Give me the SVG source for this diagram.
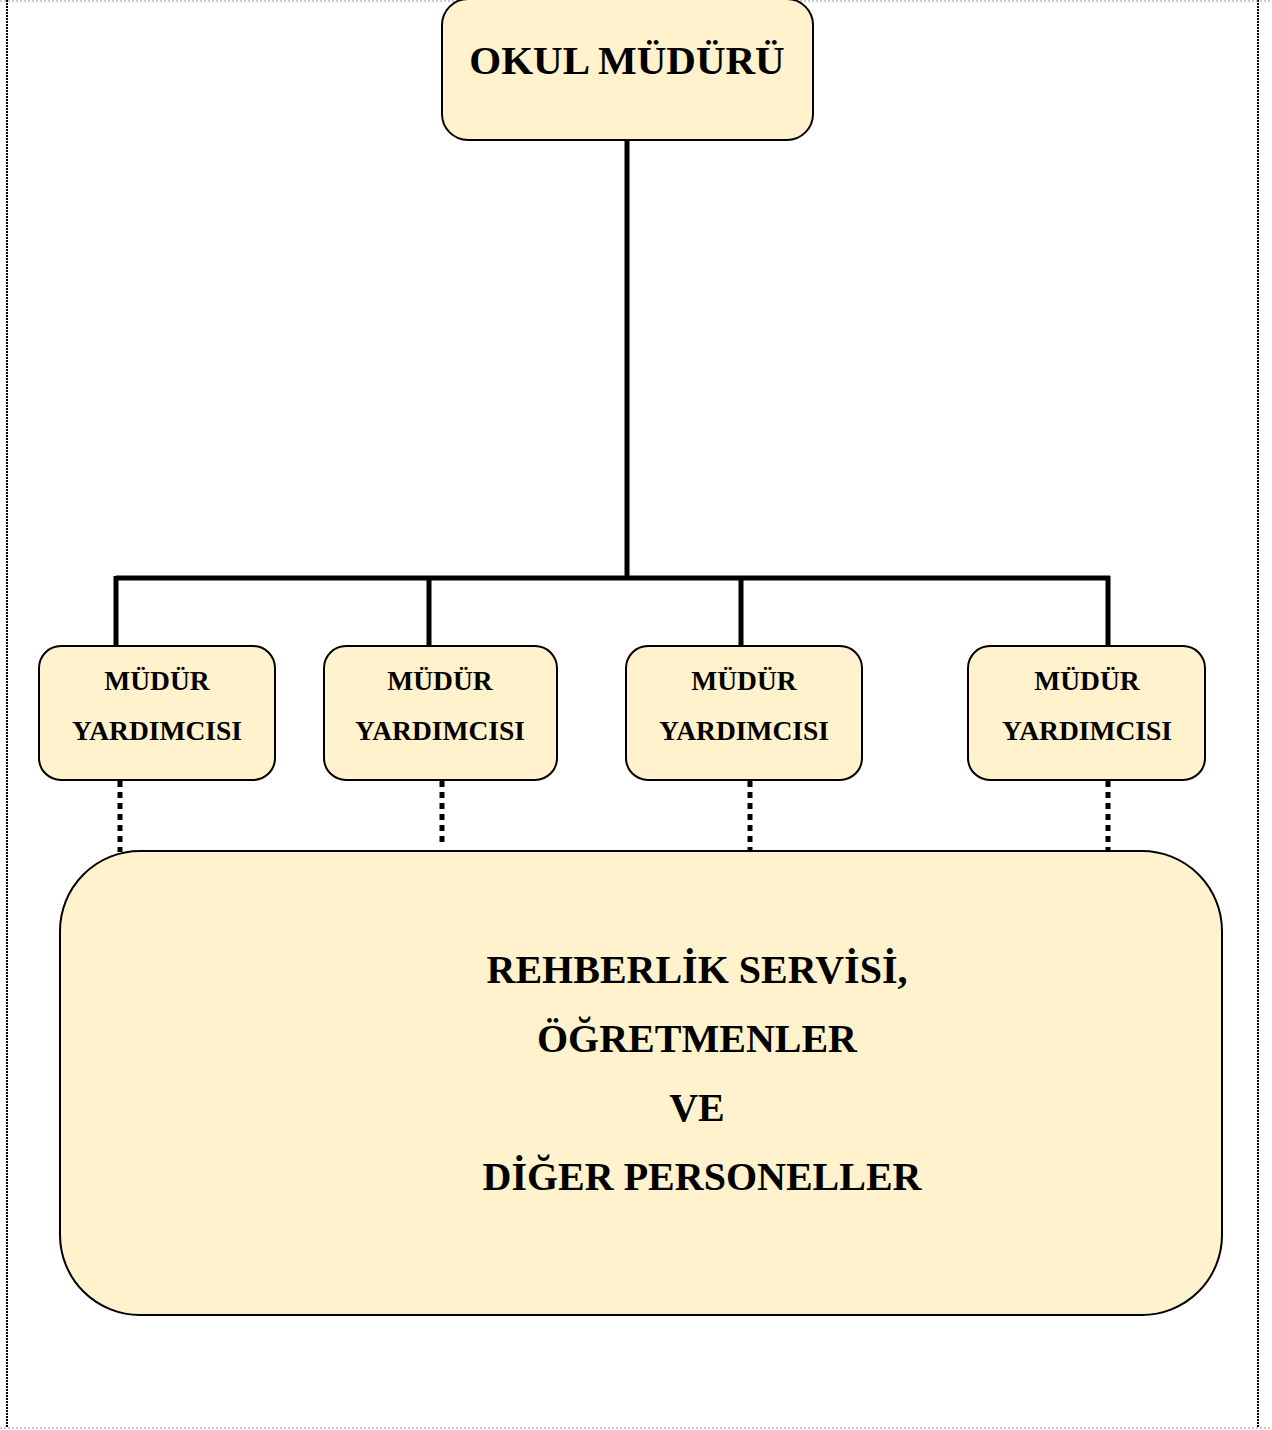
<svg xmlns="http://www.w3.org/2000/svg" width="1272" height="1430" viewBox="0 0 1272 1430">
<style>
.box{fill:#FFF2CC;stroke:#000;stroke-width:2}
.t{font-family:"Liberation Serif","Times New Roman",serif;font-weight:bold;fill:#000;text-anchor:middle}
.top{font-size:41px}
.big{font-size:40px}
.sm{font-size:27.5px}
.solid{stroke:#000;stroke-width:5;fill:none}
.dot{stroke:#000;stroke-width:5;stroke-dasharray:6 5;fill:none}
</style>
<rect x="0" y="0" width="1272" height="1430" fill="#fff"/>
<g id="page">
<line x1="7" y1="0" x2="7" y2="1428" stroke="#000" stroke-width="2" stroke-dasharray="2 1"/>
<line x1="1258" y1="0" x2="1258" y2="1428" stroke="#000" stroke-width="2" stroke-dasharray="2 1"/>
<line x1="0" y1="1" x2="1272" y2="1" stroke="#999" stroke-width="1" stroke-dasharray="2 2"/>
<line x1="0" y1="1428" x2="1272" y2="1428" stroke="#999" stroke-width="1" stroke-dasharray="2 2"/>
</g>
<g id="connectors">
<path class="solid" d="M627 140 V578 M116 578 H1110 M116 576 V646 M429 576 V646 M741 576 V646 M1108 576 V646"/>
<path class="dot" d="M120 781 V852 M442 781 V846 M750 781 V853 M1108 781 V853"/>
</g>
<g id="mudur">
<rect class="box" x="442" y="-1" width="371" height="141" rx="26"/>
<text class="t top" x="627" y="74">OKUL MÜDÜRÜ</text>
</g>
<g id="yard1">
<rect class="box" x="39" y="646" width="236" height="134" rx="22"/>
<text class="t sm" x="157" y="690">MÜDÜR</text>
<text class="t sm" x="157" y="740">YARDIMCISI</text>
</g>
<g id="yard2">
<rect class="box" x="324" y="646" width="233" height="134" rx="22"/>
<text class="t sm" x="440" y="690">MÜDÜR</text>
<text class="t sm" x="440" y="740">YARDIMCISI</text>
</g>
<g id="yard3">
<rect class="box" x="626" y="646" width="236" height="134" rx="22"/>
<text class="t sm" x="744" y="690">MÜDÜR</text>
<text class="t sm" x="744" y="740">YARDIMCISI</text>
</g>
<g id="yard4">
<rect class="box" x="968" y="646" width="237" height="134" rx="22"/>
<text class="t sm" x="1087" y="690">MÜDÜR</text>
<text class="t sm" x="1087" y="740">YARDIMCISI</text>
</g>
<g id="personel">
<rect class="box" x="60" y="851" width="1162" height="464" rx="80"/>
<text class="t big" x="697" y="983">REHBERLİK SERVİSİ,</text>
<text class="t big" x="697" y="1052">ÖĞRETMENLER</text>
<text class="t big" x="697" y="1121">VE</text>
<text class="t big" x="702" y="1190">DİĞER PERSONELLER</text>
</g>
</svg>
